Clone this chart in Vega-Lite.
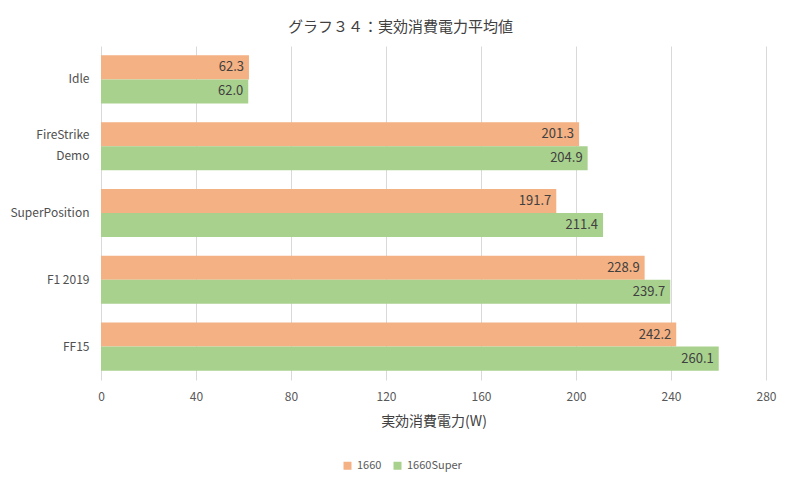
{
  "$schema": "https://vega.github.io/schema/vega-lite/v6.json",
  "autosize": {"type": "none"},
  "width": 665,
  "height": 334,
  "padding": {"left": 101, "top": 46, "right": 34, "bottom": 107},
  "background": "white",
  "config": {
    "font": "Noto Sans CJK JP",
    "view": {"stroke": null}
  },
  "title": {
    "text": "グラフ３４：実効消費電力平均値",
    "fontSize": 15,
    "fontWeight": "normal",
    "color": "#404040",
    "anchor": "middle",
    "dx": -33,
    "offset": 11
  },
  "data": {
    "values": [
      {"test": "Idle", "gpu": "1660", "power": 62.3},
      {"test": "Idle", "gpu": "1660Super", "power": 62.0},
      {"test": "FireStrike Demo", "gpu": "1660", "power": 201.3},
      {"test": "FireStrike Demo", "gpu": "1660Super", "power": 204.9},
      {"test": "SuperPosition", "gpu": "1660", "power": 191.7},
      {"test": "SuperPosition", "gpu": "1660Super", "power": 211.4},
      {"test": "F1 2019", "gpu": "1660", "power": 228.9},
      {"test": "F1 2019", "gpu": "1660Super", "power": 239.7},
      {"test": "FF15", "gpu": "1660", "power": 242.2},
      {"test": "FF15", "gpu": "1660Super", "power": 260.1}
    ]
  },
  "encoding": {
    "y": {
      "field": "test",
      "type": "nominal",
      "sort": ["Idle", "FireStrike Demo", "SuperPosition", "F1 2019", "FF15"],
      "scale": {"paddingInner": 0.28, "paddingOuter": 0.14},
      "axis": {
        "title": null,
        "domain": false,
        "ticks": false,
        "labelPadding": 12,
        "labelFontSize": 12,
        "labelColor": "#505050",
        "labelLineHeight": 21,
        "labelOffset": {"condition": {"test": "datum.value == 'FireStrike Demo'", "value": -11}, "value": 0},
        "labelExpr": "datum.value == 'FireStrike Demo' ? ['FireStrike', 'Demo'] : datum.value"
      }
    },
    "yOffset": {"field": "gpu", "type": "nominal", "sort": ["1660", "1660Super"]},
    "x": {
      "field": "power",
      "type": "quantitative",
      "scale": {"domain": [0, 280]},
      "axis": {
        "values": [0, 40, 80, 120, 160, 200, 240, 280],
        "title": "実効消費電力(W)",
        "titleFontSize": 14,
        "titleFontWeight": "normal",
        "titleColor": "#404040",
        "titlePadding": 12,
        "labelFontSize": 12,
        "labelColor": "#595959",
        "labelPadding": 11,
        "labelFlush": false,
        "domain": false,
        "ticks": false,
        "gridColor": "#D9D9D9",
        "gridWidth": 1
      }
    }
  },
  "layer": [
    {
      "mark": {"type": "bar"},
      "encoding": {
        "color": {
          "field": "gpu",
          "type": "nominal",
          "scale": {"domain": ["1660", "1660Super"], "range": ["#F4B183", "#A9D18E"]},
          "legend": {
            "title": null,
            "orient": "none",
            "direction": "horizontal",
            "legendX": 241,
            "legendY": 414,
            "symbolType": "square",
            "symbolSize": 64,
            "symbolStrokeWidth": 0,
            "labelFontSize": 11,
            "labelColor": "#595959",
            "labelOffset": 4,
            "columnPadding": 10
          }
        }
      }
    },
    {
      "mark": {"type": "text", "align": "right", "dx": -5, "fontSize": 13, "color": "#404040"},
      "encoding": {
        "text": {"field": "power", "type": "quantitative", "format": ".1f"}
      }
    }
  ]
}
